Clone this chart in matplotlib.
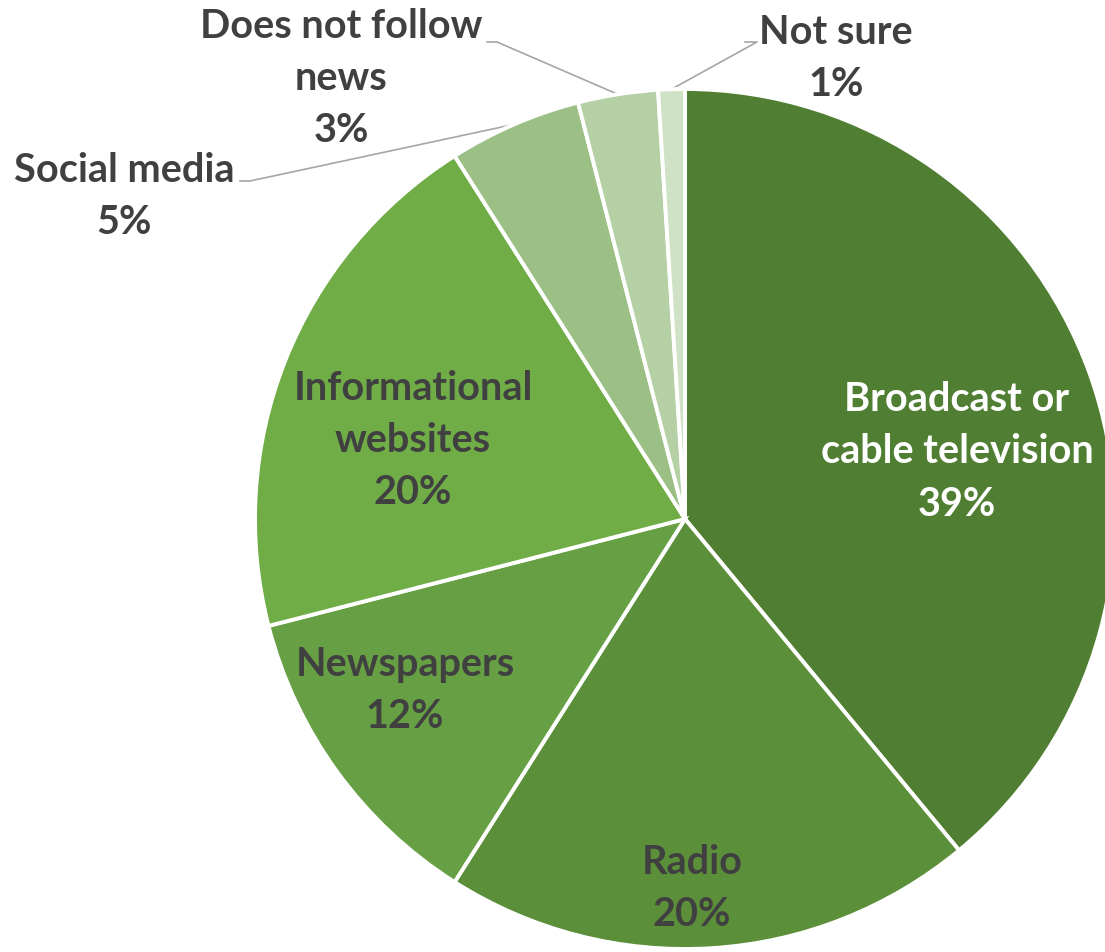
import numpy as np
import matplotlib.pyplot as plt

categories = ['Broadcast or\ncable television', 'Radio', 'Newspapers',
              'Informational\nwebsites', 'Social media', 'Does not follow\nnews',
              'Not sure']
shares = [39, 20, 12, 20, 5, 3, 1]
colors = ['#507E32', '#5B8F3A', '#67A044', '#70AD47', '#9BBF85', '#B4D0A4', '#D0E2C6']

# label centres, offsets from the pie centre in pixels
label_pos = [(272, 68), (7, -369), (-280, -171), (-272, 80),
             (-561, 324), (-344, 441), (151, 462)]
label_col = ['white'] + ['#404040'] * 6
# leader lines for the thin slices: elbow point and end next to the text
leaders = {4: ((-435, 338), (-445, 338)),
           5: ((-188, 477), (-198, 477)),
           6: ((72, 477), (60, 477))}

plt.rcParams['font.family'] = ['Lato', 'DejaVu Sans']

fig = plt.figure(figsize=(11.05, 9.53), dpi=100)
ax = fig.add_axes([0, 0, 1, 1])

R = 430
wedges, _ = ax.pie(shares, colors=colors, radius=R, startangle=90,
                   counterclock=False,
                   wedgeprops=dict(edgecolor='white', linewidth=2.8))
ax.set_xlim(-685, 420)
ax.set_ylim(-433, 520)
ax.set_aspect('equal')
ax.axis('off')

for i, (cat, val) in enumerate(zip(categories, shares)):
    x, y = label_pos[i]
    ax.text(x, y, f'{cat}\n{val}%', ha='center', va='center', fontsize=28.5,
            fontweight='bold', color=label_col[i], linespacing=1.5)

for i, (elbow, end) in leaders.items():
    w = wedges[i]
    mid = np.deg2rad((w.theta1 + w.theta2) / 2)
    p = (R * np.cos(mid), R * np.sin(mid))
    ax.plot([p[0], elbow[0], end[0]], [p[1], elbow[1], end[1]],
            color='#A6A6A6', lw=1.2, zorder=0)

fig.savefig('out.png', dpi=100)
